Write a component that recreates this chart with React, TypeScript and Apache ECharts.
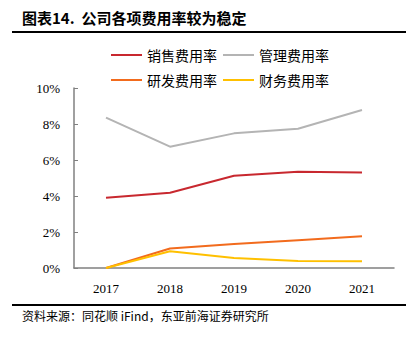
import React, { useEffect, useRef } from "react";
import * as echarts from "echarts";

const years = ["2017", "2018", "2019", "2020", "2021"];
const salesRate = [3.9, 4.18, 5.12, 5.35, 5.31];
const adminRate = [8.35, 6.74, 7.48, 7.74, 8.78];
const rdRate = [0, 1.08, 1.33, 1.54, 1.76];
const finRate = [0, 0.93, 0.56, 0.39, 0.37];
const seriesNames = ["销售费用率", "管理费用率", "研发费用率", "财务费用率"];
const colors = ["#C8282F", "#B4B4B4", "#F26B1D", "#FFC000"];

const serif = '"Liberation Serif", "Times New Roman", serif';
const cjk = '"Noto Sans CJK SC", sans-serif';

export default function App() {
  const ref = useRef<HTMLDivElement>(null);
  useEffect(() => {
    document.body.style.margin = "0";
    const chart = echarts.init(ref.current!, null, { renderer: "svg" });
    const data = [salesRate, adminRate, rdRate, finRate];
    chart.setOption({
      animation: false,
      backgroundColor: "#fff",
      color: colors,
      graphic: [
        {
          type: "text",
          left: 22,
          top: 10,
          style: {
            text: "图表14.  公司各项费用率较为稳定",
            font: `bold 15px ${cjk}`,
            fill: "#000",
          },
        },
        {
          type: "line",
          shape: { x1: 12, y1: 32, x2: 406, y2: 32 },
          style: { stroke: "#000", lineWidth: 2 },
        },
        {
          type: "line",
          shape: { x1: 12, y1: 305, x2: 406, y2: 305 },
          style: { stroke: "#000", lineWidth: 2 },
        },
        {
          type: "text",
          left: 22,
          top: 309,
          style: {
            text: "资料来源：同花顺 iFind，东亚前海证券研究所",
            font: `12px ${cjk}`,
            fill: "#000",
          },
        },
      ],
      legend: [
        {
          data: seriesNames.slice(0, 2),
          left: 106,
          top: 43,
          itemWidth: 31,
          itemHeight: 2,
          itemGap: 6,
          icon: "rect",
          textStyle: { fontFamily: cjk, fontSize: 14, color: "#000" },
        },
        {
          data: seriesNames.slice(2, 4),
          left: 106,
          top: 68,
          itemWidth: 31,
          itemHeight: 2,
          itemGap: 6,
          icon: "rect",
          textStyle: { fontFamily: cjk, fontSize: 14, color: "#000" },
        },
      ],
      grid: { left: 74, right: 24, top: 88, bottom: 70, containLabel: false },
      xAxis: {
        type: "category",
        data: years,
        boundaryGap: true,
        axisLine: { lineStyle: { color: "#808080", width: 1.5 } },
        axisTick: { show: false },
        axisLabel: { fontFamily: serif, fontSize: 13, color: "#000", margin: 14 },
      },
      yAxis: {
        type: "value",
        min: 0,
        max: 10,
        interval: 2,
        splitLine: { show: false },
        axisLine: { show: true, lineStyle: { color: "#808080", width: 1.5 } },
        axisTick: { show: true, inside: true, length: 4, lineStyle: { color: "#808080" } },
        axisLabel: {
          formatter: "{value}%",
          fontFamily: serif,
          fontSize: 13,
          color: "#000",
          margin: 14,
        },
      },
      series: seriesNames.map((name, i) => ({
        name,
        type: "line",
        data: data[i],
        symbol: "none",
        lineStyle: { width: 2, color: colors[i] },
        itemStyle: { color: colors[i] },
      })),
    });
    return () => chart.dispose();
  }, []);
  return <div ref={ref} style={{ width: 418, height: 338 }} />;
}
